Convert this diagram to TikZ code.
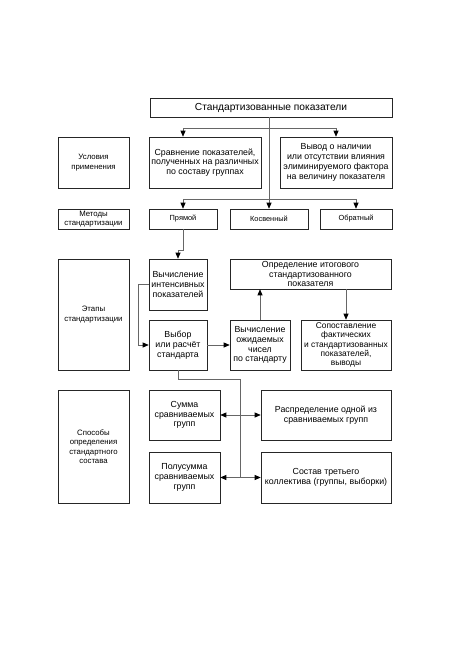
\documentclass[tikz,border=0pt]{standalone}
\usepackage{fontspec}
\setmainfont{Liberation Sans}
\usetikzlibrary{arrows.meta,calc}
\begin{document}
\begin{tikzpicture}[x=1pt,y=-1pt,
  box/.style={draw=black!85,line width=0.6pt,align=center,inner sep=0.5pt,font=\fontsize{8.8}{9.8}\selectfont},
  lbl/.style={font=\fontsize{7.8}{9.5}\selectfont},
  small/.style={font=\fontsize{7.4}{9}\selectfont},
  con/.style={draw=black!60,line width=0.7pt},
  tip/.style={Triangle[length=6pt,width=5pt,color=black]},
  arr/.style={con,-{Triangle[length=6pt,width=5pt,color=black]}},
  darr/.style={con,{Triangle[length=6pt,width=5pt,color=black]}-{Triangle[length=6pt,width=5pt,color=black]}}]
\useasboundingbox (0,0) rectangle (459,650);
\fill[white] (0,0) rectangle (459,650);
\node[box,minimum width=242,minimum height=19,font=\fontsize{10.2}{12}\selectfont] (title) at (271,107.5) {Стандартизованные показатели};
\node[box,lbl,minimum width=71,minimum height=51] (usl) at (93.5,162.5) {Условия\\применения};
\node[box,minimum width=112,minimum height=51] (srav) at (205,162.5) {Сравнение показателей,\\полученных на различных\\по составу группах};
\node[box,minimum width=112,minimum height=51] (vyvod) at (336,162.5) {Вывод о наличии\\или отсутствии влияния\\элиминируемого фактора\\на величину показателя};
\node[box,lbl,minimum width=71,minimum height=20] (met) at (93.5,219) {Методы\\стандартизации};
\node[box,small,minimum width=68,minimum height=20] (pryam) at (183,219) {Прямой};
\node[box,small,minimum width=78,minimum height=20] (kosv) at (269,219) {Косвенный};
\node[box,small,minimum width=72,minimum height=20] (obr) at (356,219) {Обратный};
\node[box,lbl,minimum width=71,minimum height=111] (etap) at (93.5,314.5) {Этапы\\стандартизации};
\node[box,minimum width=58,minimum height=51] (vychint) at (178,284.5) {Вычисление\\интенсивных\\показателей};
\node[box,minimum width=58,minimum height=50] (vybor) at (178,345) {Выбор\\или расчёт\\стандарта};
\node[box,minimum width=60,minimum height=50] (vychozh) at (260,345) {Вычисление\\ожидаемых\\чисел\\по стандарту};
\node[box,minimum width=161,minimum height=30] (opred) at (310.5,274) {Определение итогового\\стандартизованного\\показателя};
\node[box,minimum width=90,minimum height=50,font=\fontsize{8.4}{9.2}\selectfont,inner sep=0pt] (sopost) at (346,345) {Сопоставление\\фактических\\и стандартизованных\\показателей,\\выводы};
\node[box,lbl,minimum width=71,minimum height=113] (sposob) at (93.5,446.5) {Способы\\определения\\стандартного\\состава};
\node[box,minimum width=71,minimum height=50] (summa) at (184.5,415) {Сумма\\сравниваемых\\групп};
\node[box,minimum width=71,minimum height=51] (polu) at (184.5,477.5) {Полусумма\\сравниваемых\\групп};
\node[box,minimum width=130,minimum height=50] (raspr) at (326,415) {Распределение одной из\\сравниваемых групп};
\node[box,minimum width=130,minimum height=51] (sostav) at (326,477.5) {Состав третьего\\коллектива (группы, выборки)};
% connectors
\coordinate (j1) at (270,128);
\coordinate (spine) at (240,477.5);
\draw[arr] (title.south -| kosv.north) -- (kosv.north);
\draw[arr] (j1) -| (pryam.north |- srav.north);
\draw[arr] (j1) -| (vyvod.north);
\draw[arr] (kosv.north |- 0,199) -| (pryam.north);
\draw[arr] (kosv.north |- 0,199) -| (obr.north);
\draw[arr] (pryam.south) -- ++(0,21) -| (vychint.north);
\draw[arr] (vychint.west) -- ++(-10,0) |- (vybor.west);
\draw[arr] (vybor.east) -- (vychozh.west);
\draw[arr] (vychozh.north) -- (vychozh.north |- opred.south);
\draw[arr] (opred.south -| sopost.north) -- (sopost.north);
\draw[con] (vybor.south) -- ++(0,9) -| (spine);
\draw[darr] (summa.east) -- (raspr.west);
\draw[darr] (polu.east) -- (sostav.west);
\end{tikzpicture}
\end{document}
